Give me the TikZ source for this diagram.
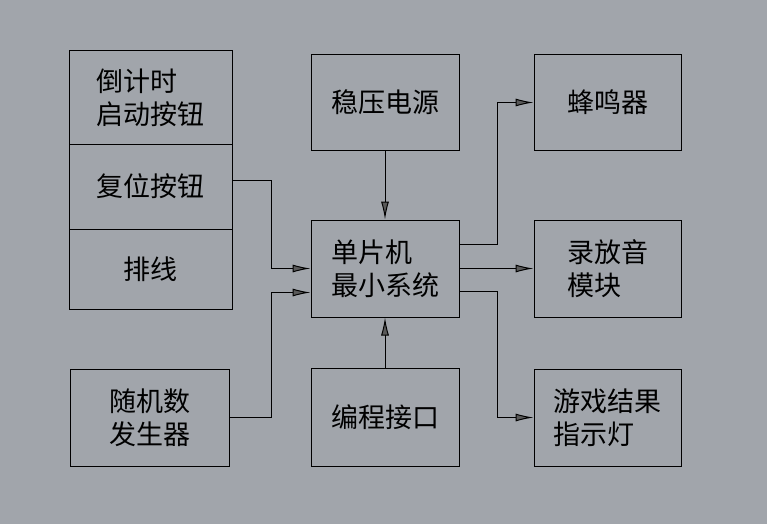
\documentclass[tikz,border=0pt]{standalone}
\usepackage{fontspec}
\newfontfamily\cjk{Noto Sans CJK SC}
\usetikzlibrary{arrows.meta}
\definecolor{bgc}{RGB}{161,165,171}

\begin{document}
\begin{tikzpicture}[x=1pt,y=-1pt,line width=1pt,
  font=\cjk\fontsize{27}{33}\selectfont,
  blk/.style={draw,inner sep=0pt,align=left,minimum width=148pt,minimum height=96pt},
  wire/.style={-{Latex[length=18pt,width=8pt,fill=black!65]}}]

\useasboundingbox[fill=bgc] (0,0) rectangle (767,524);

% left column
\node[blk,minimum width=163pt,minimum height=93pt] (start) at (150.5,97.5) {倒计时\\启动按钮};
\node[blk,minimum width=163pt,minimum height=85pt] (reset) at (150.5,186.5) {复位按钮};
\node[blk,minimum width=163pt,minimum height=80pt] (cable) at (150.5,269) {排线};
\node[blk,minimum width=159pt,minimum height=97pt] (rand) at (149.5,417.5) {随机数\\发生器};

% middle column
\node[blk,minimum height=95pt] (power) at (385,102.5) {稳压电源};
\node[blk,minimum height=97pt] (mcu) at (385,268.5) {单片机\\最小系统};
\node[blk,minimum height=98pt] (prog) at (385,417) {编程接口};

% right column
\node[blk,minimum width=147pt,minimum height=95pt] (beep) at (607.5,102.5) {蜂鸣器};
\node[blk,minimum width=147pt,minimum height=97pt] (rec) at (607.5,268.5) {录放音\\模块};
\node[blk,minimum width=147pt,minimum height=97pt] (led) at (607.5,417.5) {游戏结果\\指示灯};

% connections
\draw[wire] ([yshift=6pt]reset.east) -- ++(39,0) |- (mcu.west);
\draw[wire] (rand.east) -- ++(42,0) |- ([yshift=-24pt]mcu.west);
\draw[wire] (power.south) -- (mcu.north);
\draw[wire] (prog.north) -- (mcu.south);
\draw[wire] ([yshift=24pt]mcu.east) -- ++(38,0) |- (beep.west);
\draw[wire] (mcu.east) -- (rec.west);
\draw[wire] ([yshift=-23pt]mcu.east) -- ++(38,0) |- (led.west);

\end{tikzpicture}
\end{document}
